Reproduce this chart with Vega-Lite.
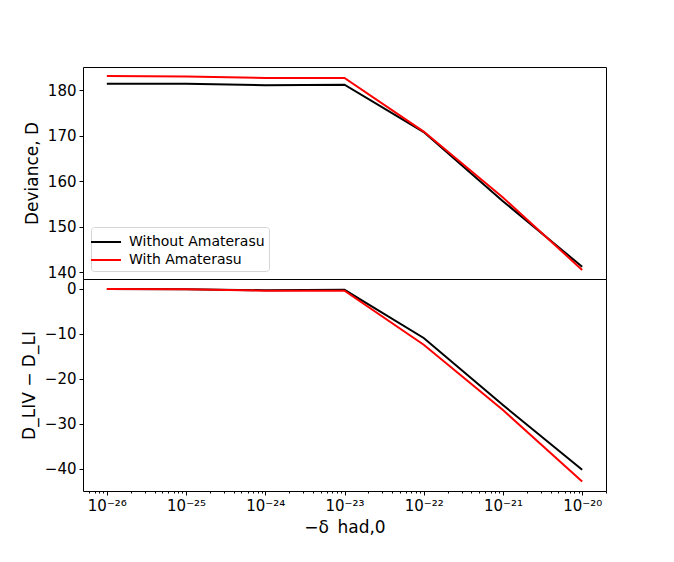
{
  "$schema": "https://vega.github.io/schema/vega-lite/v6.json",
  "padding": {"left": 19, "top": 66, "right": 0, "bottom": 0},
  "background": "white",
  "spacing": 0,
  "bounds": "flush",
  "config": {
    "font": "DejaVu Sans",
    "view": {"stroke": "black", "strokeWidth": 1},
    "axis": {"grid": false, "domain": false, "tickColor": "black", "tickSize": 4, "labelFontSize": 15, "labelColor": "black", "titleFontSize": 17, "titleFontWeight": "normal", "titleColor": "black", "labelPadding": 3, "titlePadding": 6}
  },
  "datasets": {
    "dev": [
      {"x": 1e-26, "D": 181.4, "s": "Without Amaterasu"},
      {"x": 1e-25, "D": 181.4, "s": "Without Amaterasu"},
      {"x": 1e-24, "D": 181.1, "s": "Without Amaterasu"},
      {"x": 1e-23, "D": 181.2, "s": "Without Amaterasu"},
      {"x": 1e-22, "D": 170.8, "s": "Without Amaterasu"},
      {"x": 1e-21, "D": 155.6, "s": "Without Amaterasu"},
      {"x": 1e-20, "D": 141.2, "s": "Without Amaterasu"},
      {"x": 1e-26, "D": 183.1, "s": "With Amaterasu"},
      {"x": 1e-25, "D": 183.0, "s": "With Amaterasu"},
      {"x": 1e-24, "D": 182.7, "s": "With Amaterasu"},
      {"x": 1e-23, "D": 182.7, "s": "With Amaterasu"},
      {"x": 1e-22, "D": 170.9, "s": "With Amaterasu"},
      {"x": 1e-21, "D": 156.4, "s": "With Amaterasu"},
      {"x": 1e-20, "D": 140.5, "s": "With Amaterasu"}
    ],
    "diff": [
      {"x": 1e-26, "d": 0.0, "s": "Without Amaterasu"},
      {"x": 1e-25, "d": -0.1, "s": "Without Amaterasu"},
      {"x": 1e-24, "d": -0.3, "s": "Without Amaterasu"},
      {"x": 1e-23, "d": -0.2, "s": "Without Amaterasu"},
      {"x": 1e-22, "d": -10.9, "s": "Without Amaterasu"},
      {"x": 1e-21, "d": -25.8, "s": "Without Amaterasu"},
      {"x": 1e-20, "d": -40.2, "s": "Without Amaterasu"},
      {"x": 1e-26, "d": 0.0, "s": "With Amaterasu"},
      {"x": 1e-25, "d": -0.1, "s": "With Amaterasu"},
      {"x": 1e-24, "d": -0.4, "s": "With Amaterasu"},
      {"x": 1e-23, "d": -0.4, "s": "With Amaterasu"},
      {"x": 1e-22, "d": -12.4, "s": "With Amaterasu"},
      {"x": 1e-21, "d": -26.9, "s": "With Amaterasu"},
      {"x": 1e-20, "d": -42.8, "s": "With Amaterasu"}
    ]
  },
  "resolve": {"scale": {"color": "independent"}},
  "vconcat": [
    {
      "width": 523,
      "height": 212,
      "data": {"name": "dev"},
      "mark": {"type": "line", "strokeWidth": 2, "clip": true},
      "encoding": {
        "x": {"field": "x", "type": "quantitative", "scale": {"type": "log", "domain": [5.0e-27, 2.0e-20], "nice": false}, "axis": null},
        "y": {"field": "D", "type": "quantitative", "scale": {"domain": [138.5, 185.1], "nice": false, "zero": false}, "axis": {"values": [140, 150, 160, 170, 180], "title": "Deviance, D"}},
        "color": {"field": "s", "type": "nominal", "scale": {"domain": ["Without Amaterasu", "With Amaterasu"], "range": ["black", "red"]},
          "legend": {"title": null, "orient": "bottom-left", "offset": 8, "symbolType": "M-1.5,0H1.5", "symbolSize": 400, "symbolStrokeWidth": 2, "labelFontSize": 14, "labelColor": "black", "strokeColor": "#d5d5d5", "fillColor": "white", "cornerRadius": 3, "padding": 4, "rowPadding": 0, "labelOffset": 12}
        }
      }
    },
    {
      "width": 523,
      "height": 212,
      "data": {"name": "diff"},
      "mark": {"type": "line", "strokeWidth": 2, "clip": true},
      "encoding": {
        "x": {"field": "x", "type": "quantitative", "scale": {"type": "log", "domain": [5.0e-27, 2.0e-20], "nice": false},
          "axis": {"values": [6e-27, 7e-27, 8e-27, 9e-27, 1e-26, 2e-26, 3e-26, 4e-26, 5e-26, 6e-26, 7e-26, 8e-26, 9e-26, 1e-25, 2e-25, 3e-25, 4e-25, 5e-25, 6e-25, 7e-25, 8e-25, 9e-25, 1e-24, 2e-24, 3e-24, 4e-24, 5e-24, 6e-24, 7e-24, 8e-24, 9e-24, 1e-23, 2e-23, 3e-23, 4e-23, 5e-23, 6e-23, 7e-23, 8e-23, 9e-23, 1e-22, 2e-22, 3e-22, 4e-22, 5e-22, 6e-22, 7e-22, 8e-22, 9e-22, 1e-21, 2e-21, 3e-21, 4e-21, 5e-21, 6e-21, 7e-21, 8e-21, 9e-21, 1e-20, 2e-20],
            "labelExpr": "abs(log(datum.value)/LN10 - round(log(datum.value)/LN10)) < 0.01 ? '10⁻²' + ['⁰','¹','²','³','⁴','⁵','⁶'][round(-log(datum.value)/LN10) - 20] : ''",
            "tickSize": {"condition": {"test": "abs(log(datum.value)/LN10 - round(log(datum.value)/LN10)) < 0.01", "value": 4}, "value": 2},
            "title": "−δ_had,0", "labelFlush": false, "labelOverlap": false}},
        "y": {"field": "d", "type": "quantitative", "scale": {"domain": [-44.9, 2.2], "nice": false, "zero": false}, "axis": {"values": [0, -10, -20, -30, -40], "title": "D_LIV − D_LI"}},
        "color": {"field": "s", "type": "nominal", "scale": {"domain": ["Without Amaterasu", "With Amaterasu"], "range": ["black", "red"]}, "legend": null}
      }
    }
  ]
}
